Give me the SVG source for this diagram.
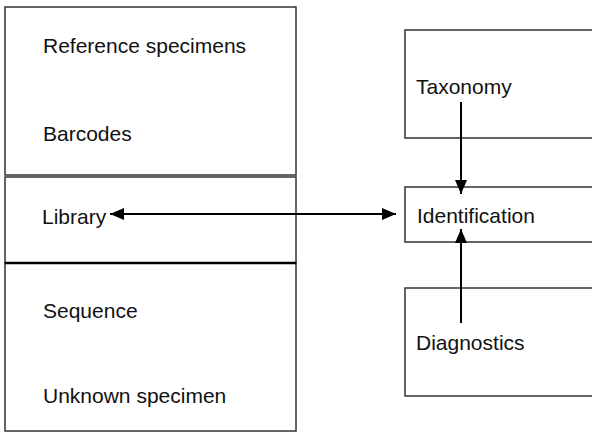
<svg xmlns="http://www.w3.org/2000/svg" width="592" height="433" viewBox="0 0 592 433">
<style>
.box{fill:#fff;stroke:#333;stroke-width:1.5}
.lbl{font-family:"Liberation Sans",Arial,sans-serif;font-size:21px;fill:#111}
.conn{stroke:#000;stroke-width:2;fill:none}
</style>
<defs>
<marker id="ah" viewBox="0 0 14 12" refX="14" refY="6" markerWidth="14" markerHeight="12" markerUnits="userSpaceOnUse" orient="auto-start-reverse">
<path d="M0,0 L14,6 L0,12 z" fill="#000"/>
</marker>
</defs>
<rect width="592" height="433" fill="#fff"/>
<g id="node-reference">
<rect class="box" x="5" y="7" width="291" height="168"/>
<text class="lbl" x="43" y="53">Reference specimens</text>
<text class="lbl" x="43" y="141">Barcodes</text>
</g>
<g id="node-library">
<rect class="box" x="5" y="177" width="291" height="86"/>
<text class="lbl" x="42" y="224">Library</text>
</g>
<g id="node-sequence">
<rect class="box" x="5" y="263" width="291" height="168"/>
<line x1="5" y1="263" x2="296" y2="263" stroke="#000" stroke-width="2.5"/>
<text class="lbl" x="43" y="318">Sequence</text>
<text class="lbl" x="43" y="403">Unknown specimen</text>
</g>
<g id="node-taxonomy">
<rect class="box" x="405" y="30" width="200" height="108"/>
<text class="lbl" x="416" y="94">Taxonomy</text>
</g>
<g id="node-identification">
<rect class="box" x="405" y="187" width="200" height="55"/>
<text class="lbl" x="417" y="223">Identification</text>
</g>
<g id="node-diagnostics">
<rect class="box" x="405" y="288" width="200" height="108"/>
<text class="lbl" x="416" y="350">Diagnostics</text>
</g>
<g id="connectors">
<line class="conn" x1="110" y1="214" x2="396" y2="214" marker-start="url(#ah)" marker-end="url(#ah)"/>
<line class="conn" x1="461" y1="102" x2="461" y2="194" marker-end="url(#ah)"/>
<line class="conn" x1="461" y1="323" x2="461" y2="229" marker-end="url(#ah)"/>
</g>
</svg>
